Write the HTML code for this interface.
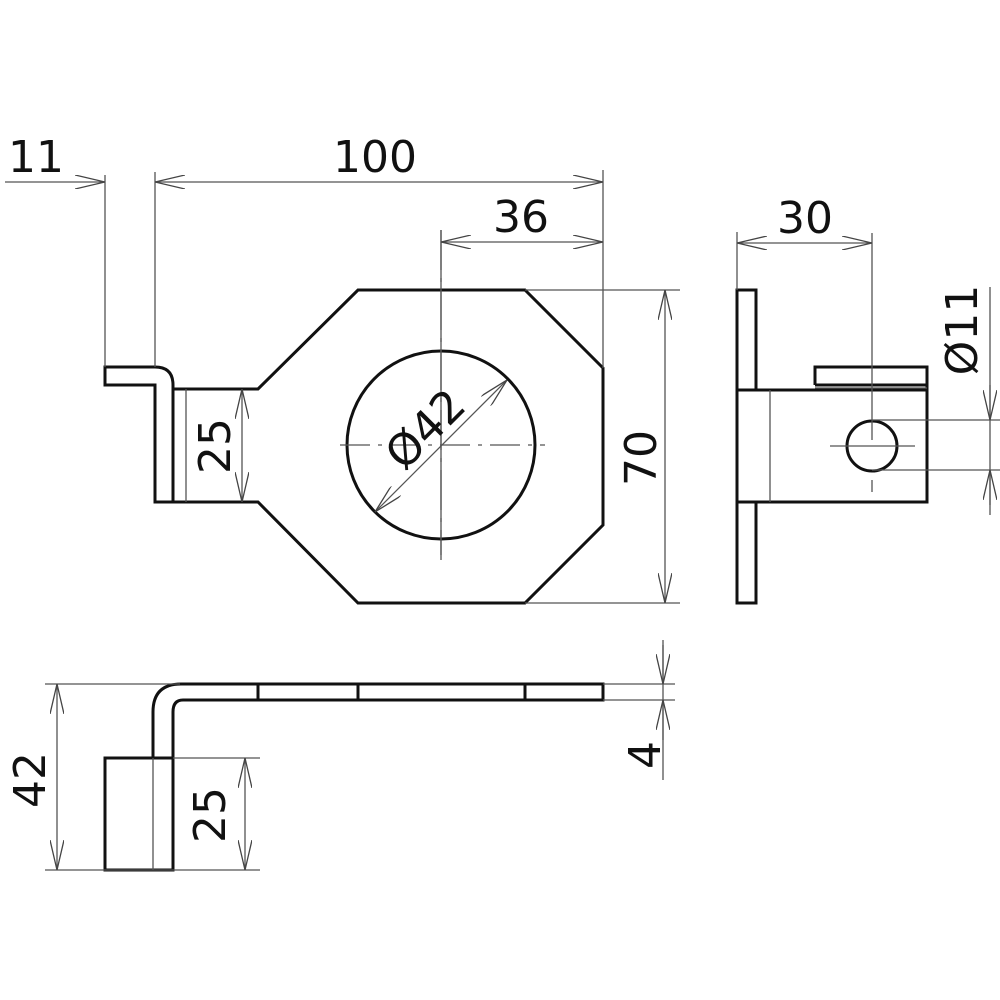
<!DOCTYPE html>
<html><head><style>html,body{margin:0;padding:0;background:#fff}svg{display:block}text{font-family:"DejaVu Sans","Liberation Sans",sans-serif;font-size:44px;fill:#111}</style></head>
<body>
<svg width="1000" height="1000" viewBox="0 0 1000 1000" xmlns="http://www.w3.org/2000/svg">
<defs>
<marker id="a" viewBox="0 0 30 14" refX="30" refY="7" markerWidth="30" markerHeight="14" markerUnits="userSpaceOnUse" orient="auto-start-reverse">
<path d="M0,0 L30,7 L0,14" fill="none" stroke="#444" stroke-width="1.3"/></marker>
</defs>
<g fill="none" stroke="#111" stroke-width="3">
<!-- top view -->
<path d="M173,389 L258,389 L358,290 L525,290 L603,368 L603,525 L525,603 L358,603 L258,502 L155,502 L155,385 L105,385 L105,367 L155,367 Q173,367 173,385 L173,502"/>
<circle cx="441" cy="445" r="94"/>
<!-- side view -->
<rect x="737" y="290" width="19" height="313"/>
<rect x="737" y="390" width="190" height="112" fill="#fff"/>
<path d="M756,390 L756,290 M815,385 L815,367 L927,367 L927,390 M815,385 L927,385"/>
<circle cx="872" cy="446" r="25"/>
<!-- bottom view -->
<path d="M153,758 L153,712 Q153,684 181,684 L603,684 L603,700 L183,700 Q173,700 173,712 L173,870 L105,870 L105,758 L173,758"/>
<path d="M258,684 L258,700 M358,684 L358,700 M525,684 L525,700"/>
</g>
<g fill="none" stroke="#555" stroke-width="1.3">
<path d="M186,389 V502 M770,390 V502 M815,388 H927 M153,758 V870"/>
<!-- extension lines -->
<path d="M105,175 V367 M155,172 V367 M603,170 V368 M441,230 V555 M525,290 H680 M525,603 H680 M737,232 V290 M872,233 V440 M872,420 H1000 M872,470 H1000 M990,287 V515 M45,684 H180 M45,870 H260 M173,758 H260 M603,684 H675 M603,700 H675 M663,640 V780"/>
<path d="M340,445 H545" stroke-dasharray="30,8,4,8"/>
<path d="M441,230 V560" stroke-dasharray="40,8,4,8"/>
<path d="M830,446 H915 M872,480 V492"/>
<!-- dims -->
<path d="M5,182 H105" marker-end="url(#a)"/>
<path d="M155,182 H603" marker-start="url(#a)" marker-end="url(#a)"/>
<path d="M441,242 H603" marker-start="url(#a)" marker-end="url(#a)"/>
<path d="M242,389 V502" marker-start="url(#a)" marker-end="url(#a)"/>
<path d="M665,290 V603" marker-start="url(#a)" marker-end="url(#a)"/>
<path d="M375,512 L507,380" marker-start="url(#a)" marker-end="url(#a)"/>
<path d="M737,243 H872" marker-start="url(#a)" marker-end="url(#a)"/>
<path d="M990,385 V420" marker-end="url(#a)"/>
<path d="M990,505 V470" marker-end="url(#a)"/>
<path d="M57,684 V870" marker-start="url(#a)" marker-end="url(#a)"/>
<path d="M245,758 V870" marker-start="url(#a)" marker-end="url(#a)"/>
<path d="M663,645 V684" marker-end="url(#a)"/>
<path d="M663,740 V700" marker-end="url(#a)"/>
</g>
<text x="8" y="172">11</text>
<text x="333" y="172">100</text>
<text x="493" y="232">36</text>
<text x="777" y="233">30</text>
<text transform="translate(230,446) rotate(-90)" text-anchor="middle">25</text>
<text transform="translate(656,458) rotate(-90)" text-anchor="middle">70</text>
<text transform="translate(436,440) rotate(-45)" text-anchor="middle">Ø42</text>
<text transform="translate(977,330) rotate(-90)" text-anchor="middle">Ø11</text>
<text transform="translate(45,780) rotate(-90)" text-anchor="middle">42</text>
<text transform="translate(225,815) rotate(-90)" text-anchor="middle">25</text>
<text transform="translate(660,755) rotate(-90)" text-anchor="middle">4</text>
</svg>
</body></html>
